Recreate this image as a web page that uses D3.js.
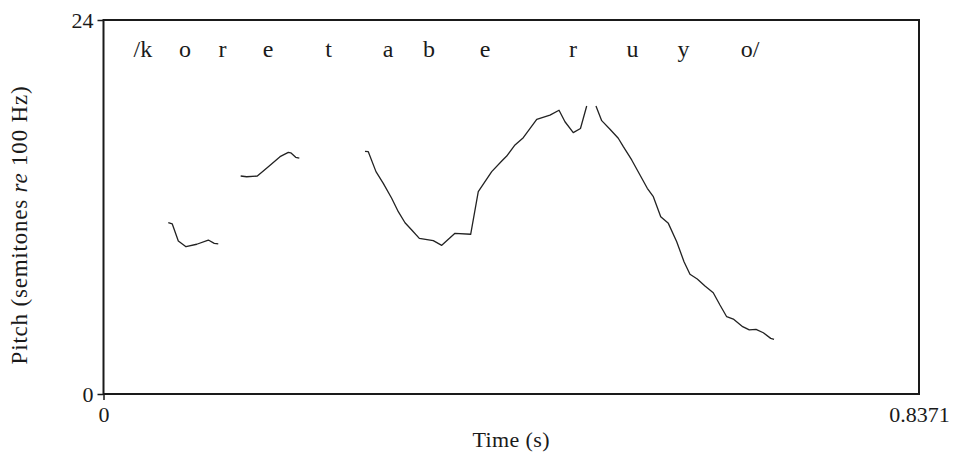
<!DOCTYPE html>
<html><head><meta charset="utf-8">
<script src="https://cdn.jsdelivr.net/npm/d3@7"></script>
<style>body{margin:0;background:#fff}svg{display:block}</style>
</head><body>
<script>
// Pitch track segments: [time (s), semitones re 100 Hz]
const seg1 = [[0.0665,10.99],[0.0706,10.91],[0.0768,9.82],[0.0847,9.45],[0.0957,9.61],[0.1076,9.88],[0.1137,9.67],[0.1178,9.63]];
const seg2 = [[0.1408,13.99],[0.1470,13.94],[0.1579,13.99],[0.1692,14.59],[0.1812,15.23],[0.1897,15.51],[0.1922,15.48],[0.1973,15.19],[0.2010,15.14]];
const seg3 = [[0.2684,15.57],[0.2718,15.55],[0.2797,14.27],[0.2872,13.52],[0.2958,12.56],[0.3026,11.70],[0.3095,10.99],[0.3164,10.52],[0.3242,9.99],[0.3385,9.84],[0.3472,9.54],[0.3608,10.31],[0.3769,10.25],[0.3847,12.98],[0.3985,14.27],[0.4088,14.95],[0.4139,15.27],[0.4224,15.98],[0.4309,16.45],[0.4447,17.63],[0.4583,17.90],[0.4676,18.21],[0.4737,17.47],[0.4822,16.77],[0.4896,17.04],[0.4960,18.48]];
const seg4 = [[0.5055,18.48],[0.5114,17.54],[0.5199,16.99],[0.5284,16.41],[0.5336,15.87],[0.5422,15.02],[0.5507,14.05],[0.5582,13.20],[0.5644,12.66],[0.5720,11.38],[0.5798,10.95],[0.5884,9.77],[0.5959,8.49],[0.6020,7.68],[0.6095,7.38],[0.6174,6.93],[0.6259,6.50],[0.6328,5.71],[0.6397,4.96],[0.6465,4.81],[0.6561,4.32],[0.6629,4.11],[0.6698,4.15],[0.6773,3.93],[0.6849,3.57],[0.6883,3.51]];
const segments = [seg1, seg2, seg3, seg4];
// Phoneme labels and their times
const phonemes = ["/k","o","r","e","t","a","b","e","r","u","y","o/"];
const phonemeTimes = [0.0405,0.0837,0.1222,0.1689,0.2310,0.2920,0.3341,0.3916,0.4819,0.5430,0.5954,0.6636];
const xTicks = [0, 0.8371];
const yTicks = [0, 24];
const xDomain = [0, 0.8371];
const yDomain = [0, 24];

const W = 954, H = 455;
const m = {top: 20, right: 35, bottom: 61, left: 103.5};
const font = "'Liberation Serif', 'Times New Roman', serif";

const svg = d3.select("body").append("svg").attr("width", W).attr("height", H);
const x = d3.scaleLinear().domain(xDomain).range([m.left, W - m.right]);
const y = d3.scaleLinear().domain(yDomain).range([H - m.bottom, m.top]);

// frame
svg.append("rect").attr("x", x(0)).attr("y", y(24))
  .attr("width", x(0.8371) - x(0)).attr("height", y(0) - y(24))
  .attr("fill", "none").attr("stroke", "#1a1a1a").attr("stroke-width", 2);

// axes
const ga = svg.append("g").attr("transform", `translate(${m.left},0)`)
  .call(d3.axisLeft(y).tickValues(yTicks).tickFormat(d3.format("d")).tickSize(6).tickSizeOuter(0).tickPadding(4));
ga.select(".domain").remove();
ga.selectAll("line").attr("stroke", "#1a1a1a").attr("stroke-width", 1.5);
ga.selectAll("text").attr("font-family", font).attr("font-size", 22).attr("fill", "#1a1a1a");

const gb = svg.append("g").attr("transform", `translate(0,${H - m.bottom})`)
  .call(d3.axisBottom(x).tickValues(xTicks).tickFormat(d => d === 0 ? "0" : "0.8371").tickSize(6).tickSizeOuter(0).tickPadding(6));
gb.select(".domain").remove();
gb.selectAll("line").attr("stroke", "#1a1a1a").attr("stroke-width", 1.5);
gb.selectAll(".tick").filter(d => d !== 0).select("line").remove();
gb.selectAll("text").attr("font-family", font).attr("font-size", 22).attr("fill", "#1a1a1a");

// pitch lines
const line = d3.line().x(d => x(d[0])).y(d => y(d[1]));
svg.append("g").selectAll("path").data(segments).join("path")
  .attr("d", line).attr("fill", "none").attr("stroke", "#222").attr("stroke-width", 1.3)
  .attr("stroke-linejoin", "round");

// phoneme labels
svg.append("g").selectAll("text").data(phonemes).join("text")
  .attr("x", (d, i) => x(phonemeTimes[i])).attr("y", 57)
  .attr("text-anchor", "middle").attr("font-family", font).attr("font-size", 24)
  .attr("fill", "#1a1a1a").text(d => d);

// axis titles
svg.append("text").attr("x", (x(0) + x(0.8371)) / 2).attr("y", 447)
  .attr("text-anchor", "middle").attr("font-family", font).attr("font-size", 22)
  .attr("letter-spacing", 0.4).attr("fill", "#1a1a1a").text("Time (s)");

const yl = svg.append("text").attr("transform", `translate(27,225) rotate(-90)`)
  .attr("text-anchor", "middle").attr("font-family", font).attr("font-size", 23)
  .attr("letter-spacing", 0.8).attr("fill", "#1a1a1a");
yl.append("tspan").text("Pitch (semitones ");
yl.append("tspan").attr("font-style", "italic").text("re");
yl.append("tspan").text(" 100 Hz)");
</script>
</body></html>
